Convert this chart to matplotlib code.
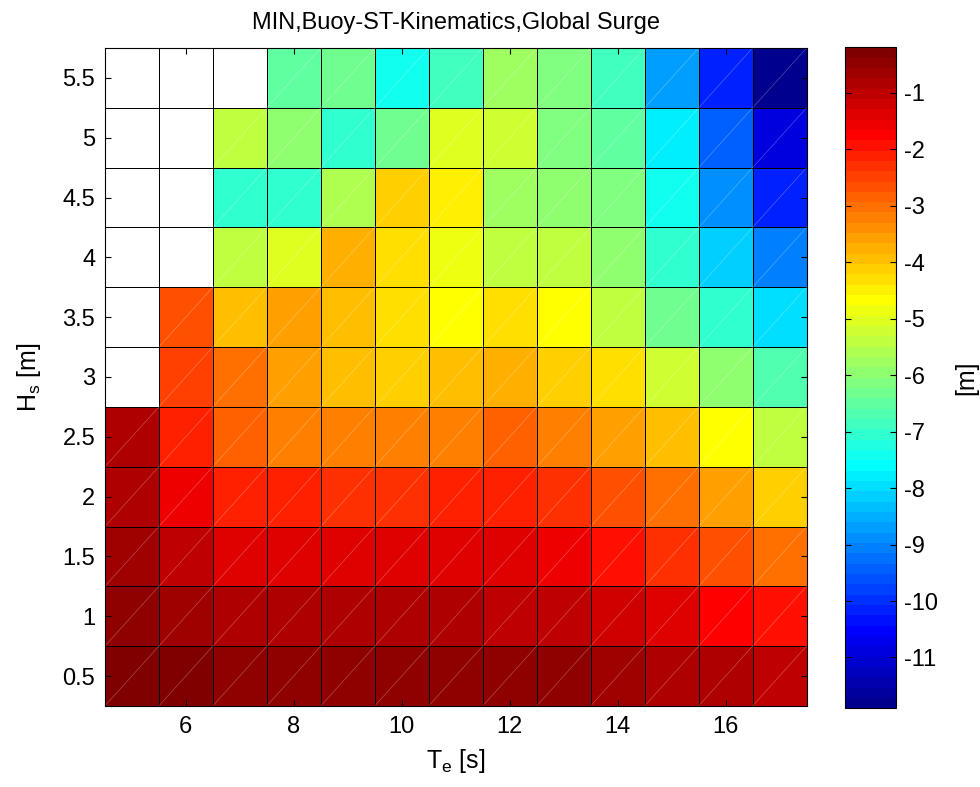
import numpy as np
import matplotlib
matplotlib.use('Agg')
import matplotlib.pyplot as plt
import matplotlib as mpl
from matplotlib.collections import LineCollection

mpl.rc('font', family=['Liberation Sans', 'DejaVu Sans'])
mpl.rcParams['mathtext.fontset'] = 'custom'
mpl.rcParams['mathtext.rm'] = 'Liberation Sans'
mpl.rcParams['mathtext.it'] = 'Liberation Sans'
mpl.rcParams['axes.unicode_minus'] = False

# wave period Te [s] (columns) and significant wave height Hs [m] (rows)
te = [5, 6, 7, 8, 9, 10, 11, 12, 13, 14, 15, 16, 17]
hs = [0.5, 1.0, 1.5, 2.0, 2.5, 3.0, 3.5, 4.0, 4.5, 5.0, 5.5]

nan = np.nan
# minimum global surge [m], rows from Hs=0.5 up to Hs=5.5
surge = [
    [-0.28, -0.28, -0.46, -0.46, -0.46, -0.46, -0.46, -0.46, -0.46, -0.65, -0.83, -0.83, -1.01],
    [-0.46, -0.65, -0.83, -0.83, -0.83, -0.83, -0.83, -1.01, -1.01, -1.20, -1.38, -1.75, -1.93],
    [-0.65, -1.01, -1.38, -1.38, -1.38, -1.38, -1.38, -1.38, -1.56, -1.93, -2.29, -2.66, -3.03],
    [-0.83, -1.56, -2.11, -2.11, -2.29, -2.29, -2.11, -2.11, -2.29, -2.66, -3.03, -3.57, -4.12],
    [-0.83, -2.11, -2.84, -3.21, -3.21, -3.21, -3.21, -2.84, -3.21, -3.57, -3.94, -4.67, -5.40],
    [nan, -2.48, -3.03, -3.57, -3.94, -4.12, -3.94, -3.76, -4.12, -4.31, -5.22, -5.95, -6.69],
    [nan, -2.66, -3.94, -3.57, -3.94, -4.31, -4.67, -4.31, -4.67, -5.40, -6.32, -7.05, -7.97],
    [nan, nan, -5.40, -5.04, -3.76, -4.31, -4.86, -5.40, -5.40, -5.95, -7.05, -8.15, -9.06],
    [nan, nan, -7.05, -7.05, -5.59, -4.12, -4.49, -5.77, -5.95, -6.14, -7.42, -8.88, -10.16],
    [nan, nan, -5.40, -5.95, -7.05, -6.32, -5.04, -5.22, -6.14, -6.50, -7.78, -9.43, -10.89],
    [nan, nan, nan, -6.50, -6.32, -7.42, -6.87, -5.77, -6.14, -6.87, -8.70, -10.16, -11.81],
]

cbar_ticks = [-1, -2, -3, -4, -5, -6, -7, -8, -9, -10, -11]
clim = (-11.9, -0.19)


def matlab_jet(m=64):
    # same construction as MATLAB's jet(m)
    n = int(np.ceil(m / 4))
    u = np.concatenate([np.arange(1, n + 1) / n, np.ones(n - 1), np.arange(n, 0, -1) / n])
    g = int(np.ceil(n / 2)) - (m % 4 == 1) + np.arange(1, len(u) + 1)
    r = g + n
    b = g - n
    J = np.zeros((m, 3))
    J[r[r <= m] - 1, 0] = u[r <= m]
    J[g[g <= m] - 1, 1] = u[g <= m]
    J[b[b > 0] - 1, 2] = u[b > 0]
    return mpl.colors.ListedColormap(J)


Z = np.ma.masked_invalid(np.array(surge))
te_edges = np.concatenate([[te[0] - 0.5], np.array(te) + 0.5])
hs_edges = np.concatenate([[hs[0] - 0.25], np.array(hs) + 0.25])

fg = plt.figure(figsize=(9.8, 7.87), dpi=100)
ax = fg.add_axes([0.107, 0.103, 0.716, 0.836])
cax = fg.add_axes([0.862, 0.100, 0.052, 0.840])

cmap = matlab_jet(64)
norm = mpl.colors.Normalize(vmin=clim[0], vmax=clim[1])
mesh = ax.pcolormesh(te_edges, hs_edges, Z, cmap=cmap, norm=norm,
                     edgecolors='black', linewidth=0.65)

# faint diagonal seams of the rendered patches
segs = []
for i in range(len(hs)):
    for j in range(len(te)):
        if not np.isnan(surge[i][j]):
            segs.append([(te_edges[j], hs_edges[i]), (te_edges[j + 1], hs_edges[i + 1])])
ax.add_collection(LineCollection(segs, colors='white', linewidths=0.5, alpha=0.3))

ax.set_xlim(te_edges[0], te_edges[-1])
ax.set_ylim(hs_edges[0], hs_edges[-1])
ax.set_xticks([6, 8, 10, 12, 14, 16])
ax.set_yticks(hs)
ax.set_yticklabels(['0.5', '1', '1.5', '2', '2.5', '3', '3.5', '4', '4.5', '5', '5.5'])
ax.tick_params(direction='in', top=True, right=True, labelsize=17, length=4, pad=7)
ax.set_xlabel(r'T$_\mathregular{e}$ [s]', fontsize=18, labelpad=7)
ax.set_ylabel(r'H$_\mathregular{s}$ [m]', fontsize=18, labelpad=14)
ax.set_title('MIN,Buoy-ST-Kinematics,Global Surge', fontsize=17, pad=14)

cbar = fg.colorbar(mesh, cax=cax)
cbar.set_ticks(cbar_ticks)
cbar.ax.tick_params(direction='in', left=True, right=True, labelsize=17, length=4, pad=6)
cbar.set_label('[m]', fontsize=18, labelpad=12)
cbar.outline.set_linewidth(0.8)

plt.savefig('out.png', dpi=100)
